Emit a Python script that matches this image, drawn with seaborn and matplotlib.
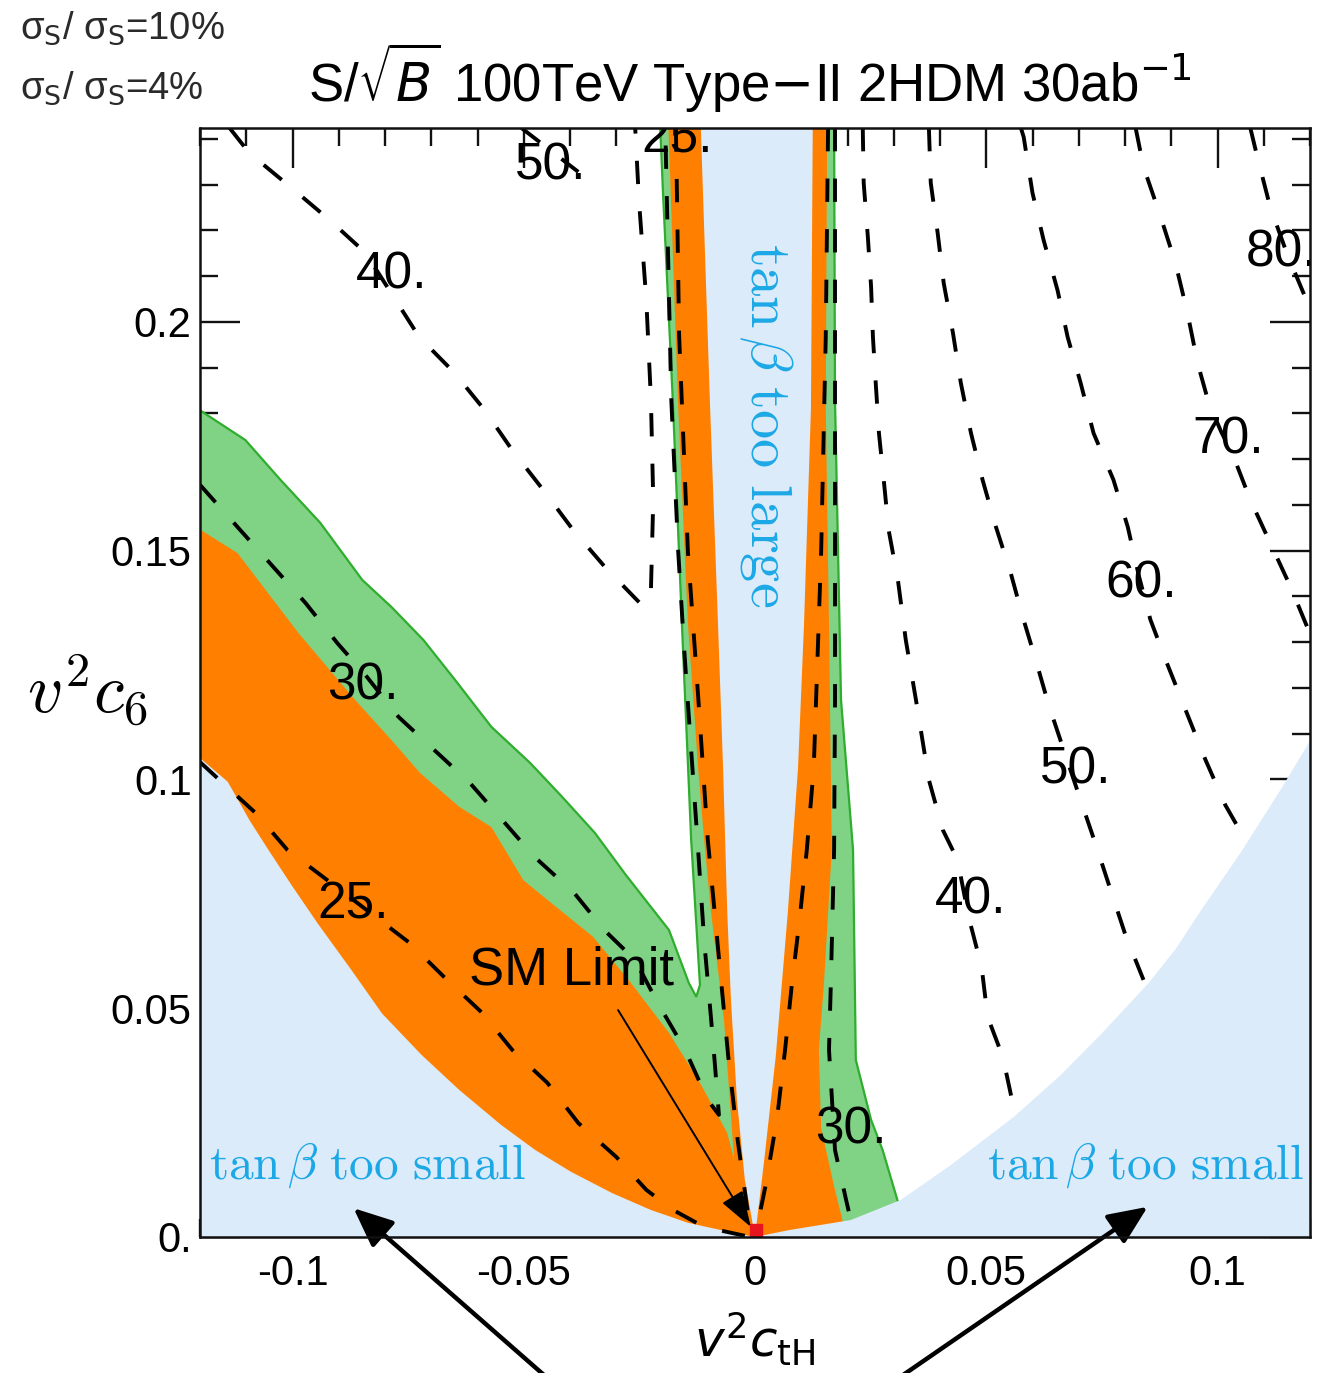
import matplotlib
matplotlib.use("Agg")
import matplotlib.pyplot as plt
import seaborn as sns
import pandas as pd
from matplotlib.ticker import FixedLocator, MultipleLocator

# ---------------- data ----------------
x_ticks = [-0.1, -0.05, 0.0, 0.05, 0.1]
x_tick_labels = ["-0.1", "-0.05", "0", "0.05", "0.1"]
y_ticks = [0.0, 0.05, 0.1, 0.15, 0.2]
y_tick_labels = ["0.", "0.05", "0.1", "0.15", "0.2"]

# sigma_S/sigma_S = 10% region (green)
green_x = [-0.125, -0.1102, -0.1026, -0.0940, -0.0849, -0.0786, -0.0717, -0.0648, -0.0570,
           -0.0486, -0.0417, -0.0346, -0.0279, -0.0186, -0.0143, -0.0127, -0.0119, -0.0138,
           -0.0158, -0.0177, -0.0199, -0.0206, 0.0171, 0.0173, 0.0186, 0.0212, 0.0218, 0.0251,
           0.0276, 0.0309, 0.0309, -0.125]
green_y = [0.1840, 0.1742, 0.1655, 0.1561, 0.1436, 0.1377, 0.1305, 0.1217, 0.1115,
           0.1036, 0.0962, 0.0883, 0.0791, 0.0671, 0.0555, 0.0525, 0.0551, 0.0868,
           0.1340, 0.1812, 0.2284, 0.2450, 0.2450, 0.1830, 0.1174, 0.0846, 0.0387, 0.0256,
           0.0190, 0.0077, -0.0100, -0.0100]

# sigma_S/sigma_S = 4% region (orange)
orange_x = [-0.125, -0.1119, -0.0987, -0.0870, -0.0786, -0.0724, -0.0639, -0.0570, -0.0501,
            -0.0449, -0.0350, -0.0268, -0.0186, -0.0119, -0.0060, -0.0045, -0.0067, -0.0095,
            -0.0110, -0.0123, -0.0145, -0.0166, -0.0188, 0.0156, 0.0153, 0.0160, 0.0166,
            0.0149, 0.0138, 0.0143, 0.0171, 0.0190, 0.0190, -0.125]
orange_y = [0.1578, 0.1495, 0.1320, 0.1180, 0.1086, 0.1014, 0.0940, 0.0896, 0.0780,
            0.0737, 0.0656, 0.0555, 0.0446, 0.0337, 0.0227, 0.0168, 0.0474, 0.0710,
            0.0868, 0.1025, 0.1340, 0.1812, 0.2450, 0.2450, 0.1812, 0.1340, 0.0846,
            0.0553, 0.0409, 0.0238, 0.0111, 0.0033, -0.0100, -0.0100]

# excluded: tan(beta) too small (left), too small (right), too large (centre)
blue_left_x = [-0.125, -0.1140, -0.1093, -0.1052, -0.1002, -0.0946, -0.0873, -0.0806, -0.0721,
               -0.0639, -0.0549, -0.0475, -0.0397, -0.0309, -0.0225, -0.0145, -0.0073, 0.0,
               0.0, -0.125]
blue_left_y = [0.1090, 0.0995, 0.0911, 0.0846, 0.0769, 0.0686, 0.0584, 0.0488, 0.0398,
               0.0321, 0.0245, 0.0190, 0.0142, 0.0096, 0.0059, 0.0031, 0.0015, 0.0,
               -0.0100, -0.0100]
blue_right_x = [0.0, 0.0073, 0.0207, 0.0315, 0.0423, 0.0559, 0.0661, 0.0747, 0.0851, 0.0910,
                0.0963, 0.1054, 0.1136, 0.1201, 0.1250, 0.1250, 0.0]
blue_right_y = [0.0, 0.0015, 0.0037, 0.0081, 0.0157, 0.0262, 0.0354, 0.0442, 0.0555, 0.0630,
                0.0712, 0.0846, 0.0977, 0.1086, 0.1170, -0.0100, -0.0100]
blue_mid_x = [-0.0118, -0.0097, -0.0080, -0.0069, -0.0060, -0.0052, -0.0039, -0.0022, 0.0,
              0.0019, 0.0045, 0.0071, 0.0093, 0.0106, 0.0121, 0.0125]
blue_mid_y = [0.2450, 0.1812, 0.1340, 0.1025, 0.0710, 0.0518, 0.0299, 0.0125, 0.0,
              0.0160, 0.0396, 0.0710, 0.1025, 0.1340, 0.1812, 0.2450]

# dashed S/sqrt(B) contours
c25_x = [-0.1200, -0.1080, -0.1011, -0.0879, -0.0747, -0.0672, -0.0590, -0.0525, -0.0449,
         -0.0382, -0.0300, -0.0235, -0.0177, -0.0110, -0.0019, -0.0015, -0.0037, -0.0058,
         -0.0080, -0.0102, -0.0123, -0.0145, -0.0164, -0.0171]
c25_y = [0.1038, 0.0927, 0.0846, 0.0745, 0.0643, 0.0568, 0.0490, 0.0409, 0.0337,
         0.0249, 0.0175, 0.0103, 0.0059, 0.0022, 0.0002, 0.0050, 0.0208, 0.0396,
         0.0632, 0.0868, 0.1183, 0.1497, 0.1969, 0.2424]
c25r_x = [0.0158, 0.0153, 0.0143, 0.0127, 0.0112, 0.0097, 0.0080, 0.0065, 0.0048, 0.0024,
          0.0009, 0.0]
c25r_y = [0.2424, 0.1969, 0.1497, 0.1025, 0.0846, 0.0699, 0.0555, 0.0409, 0.0262, 0.0118,
          0.0044, 0.0]
c30_x = [-0.1200, -0.1119, -0.1041, -0.0972, -0.0903, -0.0842, -0.0771, -0.0693, -0.0616,
         -0.0546, -0.0477, -0.0391, -0.0326, -0.0259, -0.0210, -0.0151, -0.0102, -0.0078,
         -0.0091, -0.0110, -0.0123, -0.0138, -0.0153, -0.0166, -0.0181, -0.0194]
c30_y = [0.1644, 0.1552, 0.1464, 0.1386, 0.1298, 0.1228, 0.1137, 0.1064, 0.0992,
         0.0911, 0.0831, 0.0752, 0.0671, 0.0605, 0.0511, 0.0409, 0.0299, 0.0267,
         0.0431, 0.0649, 0.0846, 0.1064, 0.1283, 0.1497, 0.1830, 0.2424]
c30r_x = [0.0173, 0.0173, 0.0173, 0.0171, 0.0164, 0.0160, 0.0173, 0.0197, 0.0207, 0.0199]
c30r_y = [0.2424, 0.1830, 0.1174, 0.0846, 0.0555, 0.0409, 0.0190, 0.0081, 0.0037, 0.0]
c40_x = [-0.1136, -0.1093, -0.0996, -0.0920, -0.0842, -0.0726, -0.0650, -0.0585, -0.0525,
         -0.0458, -0.0393, -0.0324, -0.0255, -0.0240, -0.0225, -0.0220, -0.0225, -0.0235,
         -0.0251, -0.0259]
c40_y = [0.2424, 0.2369, 0.2288, 0.2223, 0.2151, 0.1967, 0.1889, 0.1808, 0.1720,
         0.1633, 0.1545, 0.1464, 0.1392, 0.1377, 0.1414, 0.1611, 0.1830, 0.2048,
         0.2267, 0.2424]
c50_x = [-0.0505, -0.0382]
c50_y = [0.2424, 0.2328]
c40r_x = [0.0233, 0.0235, 0.0244, 0.0251, 0.0255, 0.0261, 0.0268, 0.0279, 0.0289, 0.0309,
          0.0326, 0.0348, 0.0376, 0.0406, 0.0438, 0.0462, 0.0490, 0.0503, 0.0536, 0.0559,
          0.0566]
c40r_y = [0.2424, 0.2304, 0.2186, 0.2077, 0.1967, 0.1867, 0.1757, 0.1648, 0.1545, 0.1436,
          0.1305, 0.1174, 0.0999, 0.0890, 0.0824, 0.0699, 0.0590, 0.0481, 0.0393, 0.0284,
          0.0262]
c50r_x = [0.0376, 0.0380, 0.0395, 0.0408, 0.0428, 0.0445, 0.0467, 0.0492, 0.0521, 0.0553,
          0.0579, 0.0607, 0.0635, 0.0669, 0.0704, 0.0737, 0.0769, 0.0801, 0.0840]
c50r_y = [0.2424, 0.2304, 0.2194, 0.2085, 0.1976, 0.1867, 0.1757, 0.1655, 0.1552, 0.1451,
          0.1355, 0.1261, 0.1163, 0.1060, 0.0955, 0.0857, 0.0758, 0.0660, 0.0562]
c60_x = [0.0575, 0.0581, 0.0600, 0.0624, 0.0654, 0.0676, 0.0704, 0.0732, 0.0775, 0.0806,
         0.0830, 0.0855, 0.0888, 0.0931, 0.0974, 0.1017, 0.1060]
c60_y = [0.2424, 0.2404, 0.2282, 0.2179, 0.2070, 0.1967, 0.1867, 0.1757, 0.1655, 0.1552,
         0.1445, 0.1349, 0.1261, 0.1152, 0.1043, 0.0944, 0.0868]
c70_x = [0.0823, 0.0840, 0.0877, 0.0909, 0.0935, 0.0957, 0.0981, 0.1008, 0.1035, 0.1071,
         0.1114, 0.1158, 0.1201]
c70_y = [0.2424, 0.2339, 0.2230, 0.2129, 0.2020, 0.1910, 0.1823, 0.1760, 0.1705, 0.1611,
         0.1517, 0.1421, 0.1316]
c80_x = [0.1071, 0.1086, 0.1114, 0.1150, 0.1186, 0.1201]
c80_y = [0.2424, 0.2361, 0.2251, 0.2150, 0.2063, 0.2026]

# contour labels
label_text = ["50.", "40.", "30.", "25.", "25.", "40.", "50.", "60.", "70.", "80.", "30."]
label_x = [-0.0441, -0.0786, -0.0847, -0.0868, -0.0168, 0.0467, 0.0693, 0.0834, 0.1024, 0.1138, 0.0207]
label_y = [0.2354, 0.2114, 0.1217, 0.0737, 0.2412, 0.0748, 0.1032, 0.1440, 0.1753, 0.2162, 0.0245]

# SM limit annotation and outside arrows
sm_text_pos = (-0.0397, 0.0595)
sm_arrow_x = [-0.0296, -0.0009]
sm_arrow_y = [0.0496, 0.0022]
sm_point = (0.0003, 0.0015)
low_arrows_tail_x = [-0.0395, 0.0242]
low_arrows_tail_y = [-0.0356, -0.0356]
low_arrows_head_x = [-0.0868, 0.0849]
low_arrows_head_y = [0.0063, 0.0066]

# ---------------- style ----------------
GREEN = "#80D284"
GREEN_EDGE = "#2EAD2E"
ORANGE = "#FF8000"
BLUE = "#DCEBFA"
BLUE_TXT = "#1CA8E6"

sns.set_theme(style="white")
plt.rcParams["font.family"] = ["Liberation Sans", "DejaVu Sans"]
plt.rcParams.update({"text.color": "black", "axes.labelcolor": "black",
                     "xtick.color": "black", "ytick.color": "black"})

fig = plt.figure(figsize=(13.39, 13.73), dpi=100)
ax = fig.add_axes([200 / 1339, 1 - 1237 / 1373, 1110 / 1339, 1109 / 1373])
ax.set_facecolor("white")

ax.fill(green_x, green_y, facecolor=GREEN, edgecolor=GREEN_EDGE, linewidth=1.6, zorder=1)
ax.fill(orange_x, orange_y, facecolor=ORANGE, edgecolor="none", zorder=2)
for bx, by in [(blue_left_x, blue_left_y), (blue_right_x, blue_right_y), (blue_mid_x, blue_mid_y)]:
    ax.fill(bx, by, facecolor=BLUE, edgecolor="none", zorder=3)

contours = {
    "25L": (c25_x, c25_y), "25R": (c25r_x, c25r_y), "30L": (c30_x, c30_y),
    "30R": (c30r_x, c30r_y), "40L": (c40_x, c40_y), "50L": (c50_x, c50_y),
    "40R": (c40r_x, c40r_y), "50R": (c50r_x, c50r_y), "60": (c60_x, c60_y),
    "70": (c70_x, c70_y), "80": (c80_x, c80_y),
}
df = pd.concat([pd.DataFrame({"x": cx, "y": cy, "id": k}) for k, (cx, cy) in contours.items()],
               ignore_index=True)
sns.lineplot(data=df, x="x", y="y", units="id", estimator=None, sort=False, color="black",
             linewidth=2.8, linestyle=(0, (6, 7)), ax=ax, legend=False, zorder=5)

for t, lx, ly in zip(label_text, label_x, label_y):
    ax.text(lx, ly, t, fontsize=37, ha="center", va="center_baseline", color="black",
            zorder=7, clip_on=True)

ax.text(*sm_text_pos, "SM Limit", fontsize=38, ha="center", va="center_baseline",
        color="black", zorder=7)
ax.annotate("", xy=(sm_arrow_x[1], sm_arrow_y[1]), xytext=(sm_arrow_x[0], sm_arrow_y[0]),
            arrowprops=dict(arrowstyle="-|>,head_length=0.75,head_width=0.25", color="black",
                            lw=1.4, mutation_scale=30, shrinkA=0, shrinkB=0), zorder=8)
ax.plot([sm_point[0]], [sm_point[1]], marker="s", color="#E8141E", ms=8, zorder=6, clip_on=False)

for tx, ty, hx, hy in zip(low_arrows_tail_x, low_arrows_tail_y, low_arrows_head_x, low_arrows_head_y):
    ax.annotate("", xy=(hx, hy), xytext=(tx, ty), annotation_clip=False,
                arrowprops=dict(arrowstyle="-|>,head_length=0.8,head_width=0.35", color="black",
                                lw=3.2, mutation_scale=30, shrinkA=0, shrinkB=0), zorder=9)

# blue region texts
ax.text(0.0024, 0.1775, r"$\tan\beta\ \mathrm{too\ large}$", rotation=-90, fontsize=42,
        color=BLUE_TXT, ha="center", va="center", math_fontfamily="cm", zorder=7)
ax.text(-0.1181, 0.0157, r"$\tan\beta\ \mathrm{too\ small}$", fontsize=35.5,
        color=BLUE_TXT, ha="left", va="center", math_fontfamily="cm", zorder=7)
ax.text(0.1186, 0.0157, r"$\tan\beta\ \mathrm{too\ small}$", fontsize=35.5,
        color=BLUE_TXT, ha="right", va="center", math_fontfamily="cm", zorder=7)

# axes
ax.set_xlim(-0.12, 0.12)
ax.set_ylim(0.0, 0.2424)
ax.xaxis.set_major_locator(FixedLocator(x_ticks))
ax.set_xticklabels(x_tick_labels)
ax.yaxis.set_major_locator(FixedLocator(y_ticks))
ax.set_yticklabels(y_tick_labels)
ax.xaxis.set_minor_locator(MultipleLocator(0.01))
ax.yaxis.set_minor_locator(MultipleLocator(0.01))
ax.tick_params(which="both", direction="in", top=True, right=True, bottom=True, left=True,
               color="#111111", labelcolor="black", width=1.7, labelsize=30, zorder=10)
ax.tick_params(which="major", length=29)
ax.tick_params(which="minor", length=13)
ax.tick_params(axis="x", which="major", pad=12)
ax.tick_params(axis="y", which="major", pad=6)
for sp in ax.spines.values():
    sp.set_color("#111111")
    sp.set_linewidth(1.8)
    sp.set_zorder(10)
    sp.set_visible(True)
ax.grid(False)

ax.set_xlabel(r"$v^2c_{\mathrm{tH}}$", fontsize=36, math_fontfamily="dejavusans", color="black")
ax.xaxis.set_label_coords(0.5, -0.092)
ax.xaxis.label.set_va("center")
ax.set_ylabel(r"$v^2c_6$", fontsize=50, rotation=0, math_fontfamily="cm", color="black")
ax.yaxis.set_label_coords(-0.101, 0.493)
ax.yaxis.label.set_va("center")
ax.yaxis.label.set_ha("center")

fig.text(750 / 1339, 1 - 78 / 1373, r"S/$\sqrt{B}$ 100TeV Type$-$II 2HDM 30ab$^{-1}$",
         fontsize=38, ha="center", va="center", color="black", math_fontfamily="dejavusans")
fig.text(20 / 1339, 1 - 28 / 1373, r"σ$_{\mathrm{S}}$/ σ$_{\mathrm{S}}$=10%", fontsize=27.5,
         ha="left", va="center", color="#2a2a2a", math_fontfamily="dejavusans")
fig.text(20 / 1339, 1 - 88 / 1373, r"σ$_{\mathrm{S}}$/ σ$_{\mathrm{S}}$=4%", fontsize=27.5,
         ha="left", va="center", color="#2a2a2a", math_fontfamily="dejavusans")

fig.savefig("out.png", dpi=100, facecolor="white")
